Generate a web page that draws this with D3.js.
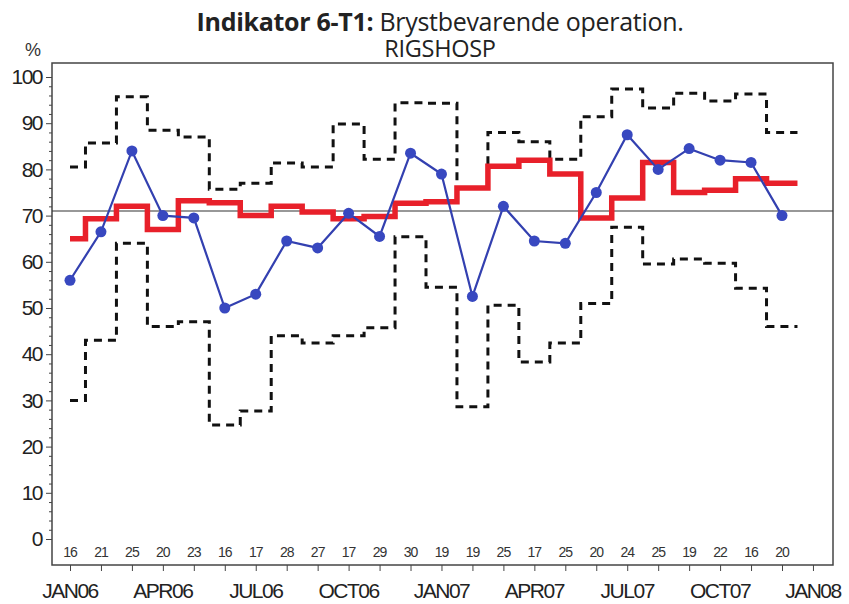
<!DOCTYPE html>
<html>
<head>
<meta charset="utf-8">
<script src="https://cdn.jsdelivr.net/npm/d3@7"></script>
<style>
  body { margin: 0; background: #fff; }
  svg { display: block; }
</style>
</head>
<body>
<div class="chart"></div>
<script>
// months, Jan 2006 .. Dec 2007 (index 0..23)
const months = d3.range(24);
// observed share (%), blue dots
const observed = [56, 66.5, 84, 70, 69.5, 50, 53, 64.5, 63, 70.5, 65.5, 83.5,
                  79, 52.5, 72, 64.5, 64, 75, 87.5, 80, 84.5, 82, 81.5, 70];
// moving average, red step line
const average = [65, 69.3, 72, 67, 73.2, 72.8, 70, 72, 70.8, 69.3, 69.8, 72.7,
                 73, 76, 80.7, 82, 79, 69.5, 73.8, 81.5, 75, 75.5, 78, 77];
// upper / lower control limits, dashed
const upper = [80.5, 85.7, 95.7, 88.5, 87, 75.7, 77, 81.4, 80.5, 89.8, 82.2, 94.4,
               94.3, 76, 88, 86, 82.2, 91.4, 97.4, 93.3, 96.5, 94.8, 96.3, 88];
const lower = [30, 43, 64, 46, 47, 24.7, 27.7, 44, 42.4, 44, 45.7, 65.4,
               54.5, 28.6, 50.6, 38.3, 42.4, 51, 67.5, 59.5, 60.6, 59.7, 54.3, 46];
// number of patients per month
const counts = [16, 21, 25, 20, 23, 16, 17, 28, 27, 17, 29, 30,
                19, 19, 25, 17, 25, 20, 24, 25, 19, 22, 16, 20];
const target = 71;
const xTickLabels = [
  { m: 0, label: "JAN06" }, { m: 3, label: "APR06" }, { m: 6, label: "JUL06" },
  { m: 9, label: "OCT06" }, { m: 12, label: "JAN07" }, { m: 15, label: "APR07" },
  { m: 18, label: "JUL07" }, { m: 21, label: "OCT07" }, { m: 24, label: "JAN08" }
];
const yTicks = d3.range(0, 101, 10);

const width = 849, height = 604;
const frame = { left: 52, right: 833, top: 63, bottom: 565 };

const svg = d3.select(".chart").append("svg")
  .attr("width", width).attr("height", height);

const x = d3.scaleLinear().domain([0, 23]).range([70, 782]);
const y = d3.scaleLinear().domain([0, 100]).range([539, 77]);

// title
const title = svg.append("text")
  .attr("x", 440).attr("y", 31)
  .attr("text-anchor", "middle")
  .style("font-family", "'Open Sans', sans-serif")
  .style("font-size", "25px")
  .style("letter-spacing", "-0.3px")
  .attr("fill", "#222");
title.append("tspan").style("font-weight", "bold").text("Indikator 6-T1:");
title.append("tspan").text(" Brystbevarende operation.");
svg.append("text")
  .attr("x", 440).attr("y", 57)
  .attr("text-anchor", "middle")
  .style("font-family", "'Open Sans', sans-serif")
  .style("font-size", "23.5px")
  .style("letter-spacing", "-0.3px")
  .attr("fill", "#222")
  .text("RIGSHOSP");

svg.append("text")
  .attr("x", 33).attr("y", 56)
  .attr("text-anchor", "middle")
  .style("font-family", "'Liberation Sans', Arial, sans-serif")
  .style("font-size", "18px")
  .attr("fill", "#333")
  .text("%");

// frame
svg.append("rect")
  .attr("x", frame.left).attr("y", frame.top)
  .attr("width", frame.right - frame.left)
  .attr("height", frame.bottom - frame.top)
  .attr("fill", "none").attr("stroke", "#444").attr("stroke-width", 1.5);

// y axis
const yAxis = d3.axisLeft(y).tickValues(yTicks).tickSize(6).tickPadding(4);
const gy = svg.append("g").attr("transform", `translate(${frame.left},0)`).call(yAxis);
gy.select(".domain").remove();
gy.selectAll("text")
  .style("font-family", "'Liberation Sans', Arial, sans-serif")
  .style("font-size", "21px")
  .style("letter-spacing", "-1.5px")
  .attr("fill", "#222");
gy.selectAll("line").attr("stroke", "#444");

const yMinor = d3.axisLeft(y).tickValues(d3.range(0, 101, 2).filter(v => v % 10 !== 0))
  .tickSize(3).tickFormat("");
const gym = svg.append("g").attr("transform", `translate(${frame.left},0)`).call(yMinor);
gym.select(".domain").remove();
gym.selectAll("line").attr("stroke", "#444");

// x axis (month ticks)
const xAxis = d3.axisBottom(x).tickValues(d3.range(0, 25)).tickSize(6).tickFormat("");
const gx = svg.append("g").attr("transform", `translate(0,${frame.bottom})`).call(xAxis);
gx.select(".domain").remove();
gx.selectAll("line").attr("stroke", "#444");

svg.append("g").selectAll("text")
  .data(xTickLabels).enter().append("text")
  .attr("x", d => x(d.m)).attr("y", 598)
  .attr("text-anchor", "middle")
  .style("font-family", "'Liberation Sans', Arial, sans-serif")
  .style("font-size", "21px")
  .style("letter-spacing", "-1.5px")
  .attr("fill", "#222")
  .text(d => d.label);

// counts
svg.append("g").selectAll("text")
  .data(counts).enter().append("text")
  .attr("x", (d, i) => x(i)).attr("y", 557)
  .attr("text-anchor", "middle")
  .style("font-family", "'Liberation Sans', Arial, sans-serif")
  .style("font-size", "14px")
  .style("letter-spacing", "-1px")
  .attr("fill", "#333")
  .text(d => d);

// target line
svg.append("line")
  .attr("x1", frame.left).attr("x2", frame.right)
  .attr("y1", y(target)).attr("y2", y(target))
  .attr("stroke", "#333").attr("stroke-width", 1.2);

// step lines: each value spans its month, last one runs half a month on
const stepLine = d3.line()
  .x(d => x(d.m)).y(d => y(d.v))
  .curve(d3.curveStep);
const stepData = arr => arr.map((v, i) => ({ m: i, v: v }))
  .concat([{ m: arr.length - 0.5, v: arr[arr.length - 1] }]);

[upper, lower].forEach(arr => {
  svg.append("path")
    .attr("d", stepLine(stepData(arr)))
    .attr("fill", "none")
    .attr("stroke", "#111")
    .attr("stroke-width", 3)
    .attr("stroke-dasharray", "8,6");
});

svg.append("path")
  .attr("d", stepLine(stepData(average)))
  .attr("fill", "none")
  .attr("stroke", "#e8202a")
  .attr("stroke-width", 5.5);

// observed line + dots
const line = d3.line().x((d, i) => x(i)).y(d => y(d));
svg.append("path")
  .attr("d", line(observed))
  .attr("fill", "none")
  .attr("stroke", "#3340b0")
  .attr("stroke-width", 2.2);

svg.append("g").selectAll("circle")
  .data(observed).enter().append("circle")
  .attr("cx", (d, i) => x(i)).attr("cy", d => y(d))
  .attr("r", 5.5)
  .attr("fill", "#3848c0");
</script>
</body>
</html>
